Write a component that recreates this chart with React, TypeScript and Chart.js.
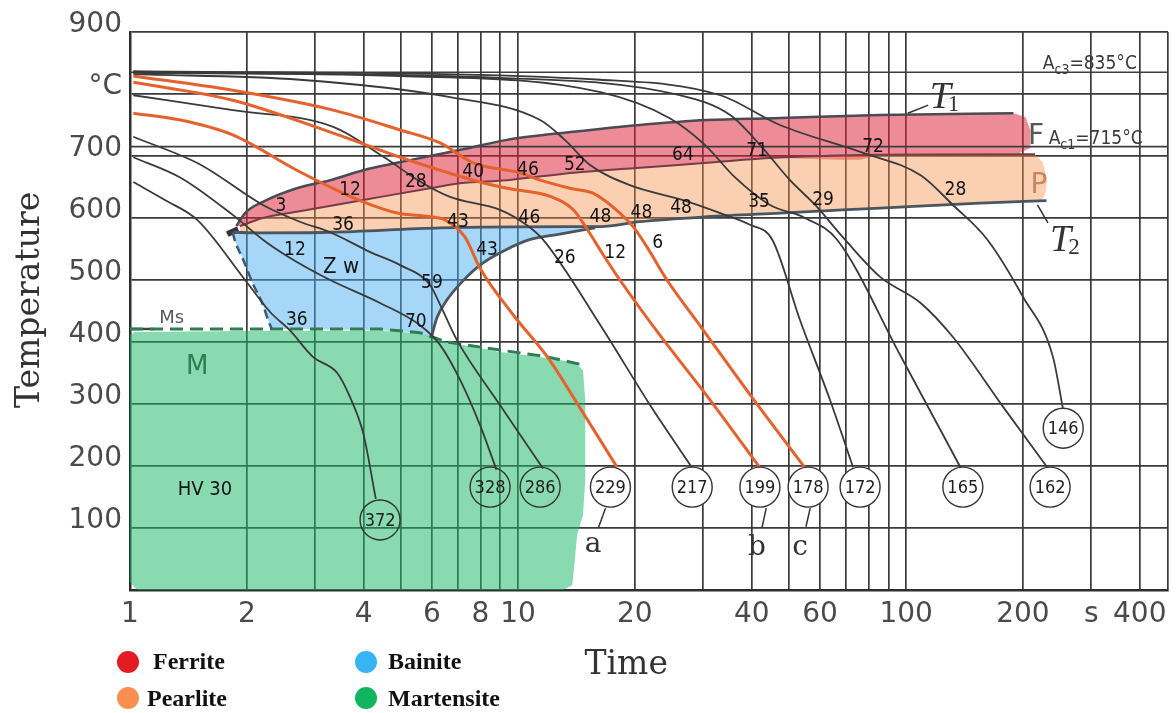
import React, { useEffect, useRef } from 'react';
import { Chart, registerables } from 'chart.js';

Chart.register(...registerables);

type P = [number, number];
type L = [number, number, string];

// ---------- axes ----------
const xTickValues = [1, 2, 3, 4, 5, 6, 7, 8, 9, 10, 20, 30, 40, 50, 60, 70, 80, 90, 100, 200, 300, 400, 473];
const xTickText: Record<string, string> = {
  '1': '1', '2': '2', '4': '4', '6': '6', '8': '8', '10': '10', '20': '20', '40': '40',
  '60': '60', '100': '100', '200': '200', '300': 's', '400': '400',
};
const yTickText: Record<string, string> = {
  '100': '100', '200': '200', '300': '300', '400': '400', '500': '500', '600': '600',
  '700': '700', '800': '°C', '900': '900',
};

// ---------- cooling curves (time s, temperature °C) ----------
const curve372: P[] = [[1.02, 658], [1.23, 629], [1.49, 597], [1.98, 500], [2.3, 448], [2.58, 419], [2.96, 376], [3.42, 350], [3.69, 311], [3.99, 253], [4.3, 147]];
const curve328: P[] = [[1.02, 698], [1.35, 665], [1.84, 605], [2.2, 565], [2.58, 536], [3.28, 500], [4.41, 463], [5.59, 427], [6.3, 395], [7.09, 339], [7.98, 266], [8.8, 194]];
const curve286: P[] = [[1.02, 731], [1.52, 686], [2.2, 621], [2.74, 594], [3.28, 577], [4.16, 545], [4.97, 524], [5.93, 492], [6.3, 460], [6.96, 403], [8.99, 298], [11.6, 196]];
const curveA229: P[] = [[1.02, 769], [1.35, 758], [1.84, 734], [2.69, 677], [3.28, 650], [3.99, 626], [4.88, 608], [5.93, 602], [6.48, 597], [7.3, 569], [7.98, 519], [9.71, 444], [11.9, 376], [14.4, 295], [18.0, 198]];
const curve217: P[] = [[1.02, 798], [1.84, 774], [3.34, 747], [4.54, 697], [5.52, 661], [6.68, 634], [8.99, 613], [10.5, 589], [11.6, 565], [16.3, 427], [21.9, 298], [28.1, 197]];
const curveB199: P[] = [[1.02, 819], [1.84, 790], [3.34, 737], [4.97, 698], [6.3, 677], [7.66, 661], [9.37, 648], [12.1, 635], [13.9, 613], [15.1, 581], [16.6, 540], [18.3, 500], [23.2, 411], [31.3, 306], [42.0, 197]];
const curveC178: P[] = [[1.02, 829], [1.84, 806], [3.34, 774], [4.97, 742], [6.3, 721], [7.66, 689], [10.1, 673], [11.4, 661], [13.6, 648], [15.6, 640], [18.3, 608], [19.8, 586], [21.5, 553], [24.2, 500], [29.4, 427], [39.6, 315], [54.9, 197]];
const curve172: P[] = [[1.02, 832], [2.74, 823], [6.68, 795], [11.4, 758], [13.2, 726], [15.3, 686], [19.4, 653], [26.6, 629], [33.2, 608], [39.6, 589], [45.2, 565], [53.3, 435], [63.7, 306], [73.0, 198]];
const curve165: P[] = [[1.02, 834], [4.97, 829], [16.3, 803], [24.6, 761], [30.3, 718], [36.3, 665], [44.6, 621], [54.9, 600], [66.4, 565], [96.5, 379], [138, 198]];
const curve162: P[] = [[1.02, 835], [8.99, 826], [26.1, 798], [35.2, 766], [42.0, 718], [50.2, 661], [58.3, 621], [69.6, 565], [85.7, 505], [109, 463], [132, 408], [178, 295], [231, 198]];
const curve146: P[] = [[1.02, 837], [16.3, 823], [33.2, 798], [47.3, 750], [77.5, 705], [109, 669], [132, 621], [162, 565], [200, 473], [239, 376], [254, 290]];

// ---------- transformation regions ----------
const ferriteRegion: P[] = [
  [1.88, 587], [1.98, 608], [2.2, 626], [2.69, 648], [3.28, 661], [3.99, 677], [4.88, 689], [5.93, 700], [7.09, 710], [9.37, 726],
  [13.9, 739], [20.6, 750], [30.7, 758], [45.4, 761], [85.7, 766], [189, 769], [203, 763], [209, 742], [209, 713],
  [196, 705], [85.7, 702], [76.1, 694], [67.6, 694], [45.4, 697], [30.7, 689], [20.6, 681], [13.9, 673], [9.37, 661],
  [7.09, 656], [5.93, 648], [3.99, 629], [2.69, 610], [2.2, 600], [1.92, 587],
];
const pearliteRegion: P[] = [
  [1.92, 587], [2.2, 600], [2.69, 610], [3.99, 629], [5.93, 648], [7.09, 656], [9.37, 661], [13.9, 673], [20.6, 681], [30.7, 689],
  [45.4, 697], [85.7, 702], [196, 705], [215, 702], [225, 690], [231, 661], [228, 637], [222, 626],
  [155, 624], [85.7, 616], [47.3, 608], [30.7, 602], [20.6, 594], [16.3, 586], [13.9, 586], [6.3, 584], [3.28, 577], [2.16, 576], [1.92, 577],
];
const bainiteRegion: P[] = [
  [1.84, 577], [3.28, 577], [6.3, 584], [13.9, 586], [16.3, 586], [15.8, 583], [12.8, 574], [10.7, 565], [9.26, 548], [7.98, 524],
  [7.17, 497], [6.56, 468], [6.18, 439], [5.97, 406], [5.59, 415], [4.41, 419], [2.74, 421], [2.32, 421], [2.27, 435], [2.2, 460],
  [2.07, 495], [1.96, 532], [1.86, 565],
];
const martensiteRegion: P[] = [
  [0.988, 410], [1.03, 416], [2.3, 418], [4.41, 418], [5.59, 414], [6.56, 400], [8.99, 384], [11.9, 374], [14.0, 367], [14.7, 355],
  [14.9, 306], [14.9, 177], [14.7, 121], [14.2, 89], [14.0, 48], [13.8, 8], [12.8, -3], [2.74, -8], [1.06, -5], [0.988, 16],
  [0.977, 226], [0.988, 371],
];

// ---------- boundary lines ----------
const ferriteStart: P[] = [[1.88, 587], [1.98, 608], [2.2, 626], [2.69, 648], [3.28, 661], [3.99, 677], [4.88, 689], [5.93, 700], [7.09, 710], [9.37, 726], [13.9, 739], [20.6, 750], [30.7, 758], [45.4, 761], [85.7, 766], [189, 769]];
const pearliteStart: P[] = [[1.92, 587], [2.2, 600], [2.69, 610], [3.99, 629], [5.93, 648], [7.09, 656], [9.37, 661], [13.9, 673], [20.6, 681], [30.7, 689], [45.4, 697], [85.7, 702], [215, 703]];
const pearliteEnd: P[] = [[1.84, 577], [2.16, 576], [3.28, 577], [6.3, 584], [13.9, 586], [16.3, 586], [20.6, 594], [30.7, 602], [47.3, 608], [85.7, 616], [155, 624], [230, 628]];
const bainiteEnd: P[] = [[5.97, 406], [6.18, 439], [6.56, 468], [7.17, 497], [7.98, 524], [9.26, 548], [10.7, 565], [12.8, 574], [15.8, 584]];
const bainiteLeft: P[] = [[1.84, 577], [1.86, 565], [1.96, 532], [2.07, 495], [2.2, 460], [2.27, 435], [2.32, 421]];
const msLine: P[] = [[1.0, 421], [2.32, 421], [4.41, 421], [5.59, 415], [6.56, 400], [8.99, 387], [11.9, 376], [14.7, 363]];
const msSolid: P[] = [[1.0, 421], [1.15, 421]];
const noseMark: P[] = [[1.78, 574], [1.9, 582]];
const ac3Line: P[] = [[1, 835], [473, 835]];
const ac1Line: P[] = [[1, 715], [473, 715]];
const t1Leader: P[] = [[101, 769], [114, 782]];
const t2Leader: P[] = [[218, 621], [232, 592]];
const aLeader: P[] = [[16.1, 100], [16.8, 132]];
const bLeader: P[] = [[42.5, 100], [43.6, 132]];
const cLeader: P[] = [[55.2, 102], [56.6, 132]];

// ---------- hardness circles ----------
const hardness = ['372', '328', '286', '229', '217', '199', '178', '172', '165', '162', '146'];
const hardnessTime = [4.41, 8.47, 11.4, 17.3, 28.1, 42.0, 55.9, 76.1, 140, 235, 254];
const hardnessTemp = [113, 166, 166, 166, 166, 166, 166, 166, 166, 166, 261];

// ---------- phase percentages ----------
const ferriteLabels: L[] = [[2.45, 619, '3'], [3.69, 645, '12'], [5.45, 658, '28'], [7.66, 674, '40'], [10.6, 677, '46'], [14.0, 686, '52'], [26.6, 702, '64'], [41.3, 708, '71'], [82.2, 714, '72']];
const pearliteLabels: L[] = [[3.54, 589, '36'], [7.0, 594, '43'], [10.7, 600, '46'], [16.3, 602, '48'], [20.8, 608, '48'], [26.3, 616, '48'], [41.8, 626, '35'], [61.1, 629, '29'], [134, 645, '28']];
const bainiteLabels: L[] = [[2.66, 548, '12'], [6.0, 495, '59'], [5.45, 432, '70'], [2.69, 435, '36'], [8.32, 548, '43'], [13.2, 535, '26'], [17.8, 543, '12'], [22.9, 560, '6']];
const zwLabel: L = [3.5, 520, 'Z w'];
const msLabel: L = [1.28, 438, 'Ms'];
const mLabel: L = [1.49, 360, 'M'];
const hvLabel: L = [1.56, 161, 'HV 30'];
const curveLetters: L[] = [[15.6, 73, 'a'], [41.3, 68, 'b'], [53.3, 68, 'c']];
const ac3Label: L = [225, 852, '835°C'];
const ac1Label: L = [233, 731, '715°C'];
const fLabel: L = [216, 737, 'F'];
const pLabel: L = [222, 658, 'P'];
const t1Label: L = [115, 777, '1'];
const t2Label: L = [235, 546, '2'];

const phaseNames = ['Ferrite', 'Pearlite', 'Bainite', 'Martensite'];
const phaseColors = ['#e31b23', '#f98f4f', '#37b4f6', '#12b55f'];

const NUM_FONT = '19px "DejaVu Sans Condensed", "DejaVu Sans", sans-serif';
const CIRCLE_FONT = '18px "Liberation Sans Narrow", "DejaVu Sans Condensed", sans-serif';
const GREY = '#4a4a4a';

const toXY = (d: P[]) => d.map(([x, y]) => ({ x, y }));

const curve = (d: P[], color: string, width: number, order: number, extra: any = {}) => ({
  data: toXY(d),
  showLine: true,
  borderColor: color,
  borderWidth: width,
  pointRadius: 0,
  fill: false,
  cubicInterpolationMode: 'monotone',
  order,
  ...extra,
});

const region = (d: P[], color: string) => ({
  data: toXY(d),
  showLine: true,
  borderWidth: 0,
  borderColor: 'rgba(0,0,0,0)',
  backgroundColor: color,
  fill: 'shape',
  pointRadius: 0,
  tension: 0,
  order: 20,
});

const textPlugin = {
  id: 'cctText',
  afterDatasetsDraw(chart: any) {
    const { ctx, chartArea } = chart;
    const X = (t: number) => chart.scales.x.getPixelForValue(t);
    const Y = (v: number) => chart.scales.y.getPixelForValue(v);
    ctx.save();
    ctx.textAlign = 'center';
    ctx.textBaseline = 'middle';

    ctx.fillStyle = '#141414';
    ctx.font = NUM_FONT;
    [...ferriteLabels, ...pearliteLabels, ...bainiteLabels].forEach(([t, v, s]) => ctx.fillText(s, X(t), Y(v)));
    ctx.font = '22px "DejaVu Sans Condensed", "DejaVu Sans", sans-serif';
    ctx.fillText(zwLabel[2], X(zwLabel[0]), Y(zwLabel[1]));
    ctx.font = '20px "DejaVu Sans Condensed", "DejaVu Sans", sans-serif';
    ctx.fillText(hvLabel[2], X(hvLabel[0]), Y(hvLabel[1]));

    ctx.fillStyle = '#5a5a5a';
    ctx.font = '18px "DejaVu Sans", sans-serif';
    ctx.fillText(msLabel[2], X(msLabel[0]), Y(msLabel[1]));
    ctx.fillStyle = '#2f7d52';
    ctx.font = '26px "DejaVu Sans", sans-serif';
    ctx.fillText(mLabel[2], X(mLabel[0]), Y(mLabel[1]));

    ctx.fillStyle = '#1e1e1e';
    ctx.font = CIRCLE_FONT;
    hardness.forEach((s, i) => ctx.fillText(s, X(hardnessTime[i]), Y(hardnessTemp[i]) + 1));

    ctx.fillStyle = '#333';
    ctx.font = '28px "DejaVu Serif", serif';
    curveLetters.forEach(([t, v, s]) => ctx.fillText(s, X(t), Y(v)));

    // Ac3 / Ac1 with subscripts
    ctx.textAlign = 'left';
    ctx.textBaseline = 'alphabetic';
    ctx.fillStyle = '#3a3a3a';
    const acText = (lab: L, sub: string) => {
      let x = X(lab[0]);
      const y = Y(lab[1]) + 7;
      ctx.font = '19px "DejaVu Sans Condensed", "DejaVu Sans", sans-serif';
      ctx.fillText('A', x, y);
      x += ctx.measureText('A').width;
      ctx.font = '14px "DejaVu Sans Condensed", "DejaVu Sans", sans-serif';
      ctx.fillText(sub, x, y + 5);
      x += ctx.measureText(sub).width;
      ctx.font = '19px "DejaVu Sans Condensed", "DejaVu Sans", sans-serif';
      ctx.fillText('=' + lab[2], x, y);
    };
    acText(ac3Label, 'c3');
    acText(ac1Label, 'c1');

    ctx.font = '28px "DejaVu Sans", sans-serif';
    ctx.fillStyle = '#555';
    ctx.fillText(fLabel[2], X(fLabel[0]) - 8, Y(fLabel[1]) + 11);
    ctx.fillStyle = '#c9865e';
    ctx.fillText(pLabel[2], X(pLabel[0]) - 10, Y(pLabel[1]) + 11);

    // T1 / T2
    ctx.fillStyle = '#333';
    const tText = (lab: L) => {
      const x = X(lab[0]);
      const y = Y(lab[1]);
      ctx.font = 'italic 38px "Liberation Serif", "DejaVu Serif", serif';
      ctx.fillText('T', x, y);
      const w = ctx.measureText('T').width;
      ctx.font = '23px "Liberation Serif", "DejaVu Serif", serif';
      ctx.fillText(lab[2], x + w - 3, y + 3);
    };
    tText(t1Label);
    tText(t2Label);

    // axis titles
    ctx.fillStyle = '#333';
    ctx.textAlign = 'center';
    ctx.textBaseline = 'middle';
    ctx.font = '33px "DejaVu Serif", serif';
    ctx.fillText('Time', X(19), chartArea.bottom + 75);
    ctx.save();
    ctx.translate(30, Y(468));
    ctx.rotate(-Math.PI / 2);
    ctx.fillText('Temperature', 0, 0);
    ctx.restore();

    ctx.restore();
  },
};

export default function App() {
  const ref = useRef<HTMLCanvasElement>(null);

  useEffect(() => {
    const black = '#3a3a3a';
    const orange = '#e5622e';
    const datasets: any[] = [
      region(martensiteRegion, 'rgba(30,185,105,0.52)'),
      region(bainiteRegion, 'rgba(70,170,240,0.48)'),
      region(pearliteRegion, 'rgba(246,140,70,0.42)'),
      region(ferriteRegion, 'rgba(220,35,55,0.52)'),
      curve(ac3Line, '#3c3c3c', 1.6, 9, { cubicInterpolationMode: 'default' }),
      curve(ac1Line, '#3c3c3c', 1.8, 9, { cubicInterpolationMode: 'default' }),
      curve(ferriteStart, '#4b4b55', 2.5, 6),
      curve(pearliteStart, '#7b3a48', 2, 6),
      curve(pearliteEnd, '#4a5560', 2.8, 6),
      curve(bainiteEnd, '#4a5560', 2.8, 6),
      curve(bainiteLeft, '#3a5a78', 2.5, 6, { borderDash: [9, 5] }),
      curve(msLine, '#2e7d55', 3, 6, { borderDash: [13, 7], cubicInterpolationMode: 'default' }),
      curve(msSolid, '#444', 2.5, 6, { cubicInterpolationMode: 'default' }),
      curve(noseMark, '#333', 6, 6, { cubicInterpolationMode: 'default' }),
      curve(curve372, black, 1.8, 3),
      curve(curve328, black, 1.8, 3),
      curve(curve286, black, 1.8, 3),
      curve(curve217, black, 1.8, 3),
      curve(curve172, black, 1.8, 3),
      curve(curve165, black, 1.8, 3),
      curve(curve162, black, 1.8, 3),
      curve(curve146, black, 1.8, 3),
      curve(curveA229, orange, 3, 2),
      curve(curveB199, orange, 3, 2),
      curve(curveC178, orange, 3, 2),
      curve(t1Leader, '#333', 1.5, 2, { cubicInterpolationMode: 'default' }),
      curve(t2Leader, '#333', 1.5, 2, { cubicInterpolationMode: 'default' }),
      curve(aLeader, '#333', 1.5, 2, { cubicInterpolationMode: 'default' }),
      curve(bLeader, '#333', 1.5, 2, { cubicInterpolationMode: 'default' }),
      curve(cLeader, '#333', 1.5, 2, { cubicInterpolationMode: 'default' }),
      {
        data: hardnessTime.map((t, i) => ({ x: t, y: hardnessTemp[i] })),
        showLine: false,
        pointRadius: 20,
        pointBorderColor: '#333',
        pointBorderWidth: 1.4,
        pointBackgroundColor: hardness.map((_, i) => (i < 3 ? 'rgba(0,0,0,0)' : '#ffffff')),
        order: 1,
      },
    ];

    const chart = new Chart(ref.current as HTMLCanvasElement, {
      type: 'scatter',
      data: { datasets },
      options: {
        animation: false,
        responsive: false,
        maintainAspectRatio: false,
        events: [],
        layout: { autoPadding: false, padding: { left: 0, right: 8, top: 32, bottom: 0 } },
        plugins: { legend: { display: false }, tooltip: { enabled: false } },
        scales: {
          x: {
            type: 'logarithmic',
            min: 1,
            max: 473,
            afterFit: (s: any) => { s.height = 123; s.paddingLeft = 0; s.paddingRight = 0; },
            afterBuildTicks: (s: any) => { s.ticks = xTickValues.map((v) => ({ value: v })); },
            ticks: {
              autoSkip: false,
              maxRotation: 0,
              padding: 8,
              color: GREY,
              font: { family: '"DejaVu Sans", sans-serif', size: 28 },
              callback: (v: any) => xTickText[String(v)] ?? '',
            },
            grid: { color: '#3a3a3a', lineWidth: 1.7, drawTicks: false },
            border: { color: '#2e2e2e', width: 2.5 },
          },
          y: {
            min: 0,
            max: 900,
            afterFit: (s: any) => { s.width = 130; s.paddingTop = 0; s.paddingBottom = 0; },
            ticks: {
              stepSize: 100,
              padding: 8,
              labelOffset: -7,
              color: GREY,
              font: { family: '"DejaVu Sans", sans-serif', size: 28 },
              callback: (v: any) => yTickText[String(v)] ?? '',
            },
            grid: { color: '#3a3a3a', lineWidth: 1.7, drawTicks: false },
            border: { color: '#2e2e2e', width: 2.5 },
          },
        },
      } as any,
      plugins: [textPlugin],
    } as any);
    return () => chart.destroy();
  }, []);

  return (
    <div style={{ position: 'fixed', left: 0, top: 0, width: 1176, height: 713, background: '#fff', overflow: 'hidden' }}>
      <canvas ref={ref} width={1176} height={713} style={{ position: 'absolute', left: 0, top: 0, width: 1176, height: 713 }} />
      {phaseNames.map((name, i) => {
        const col = i < 2 ? 0 : 1;
        const row = i % 2;
        return (
          <div key={name}>
            <div
              style={{
                position: 'absolute',
                left: col ? 355 : 117,
                top: row ? 687 : 651,
                width: 22,
                height: 22,
                borderRadius: '50%',
                background: phaseColors[i],
              }}
            />
            <div
              style={{
                position: 'absolute',
                left: col ? 388 : row ? 147 : 153,
                top: row ? 684 : 647,
                fontFamily: '"Liberation Serif", "Times New Roman", serif',
                fontWeight: 'bold',
                fontSize: 24,
                lineHeight: '28px',
                color: '#111',
                whiteSpace: 'nowrap',
              }}
            >
              {name}
            </div>
          </div>
        );
      })}
    </div>
  );
}
